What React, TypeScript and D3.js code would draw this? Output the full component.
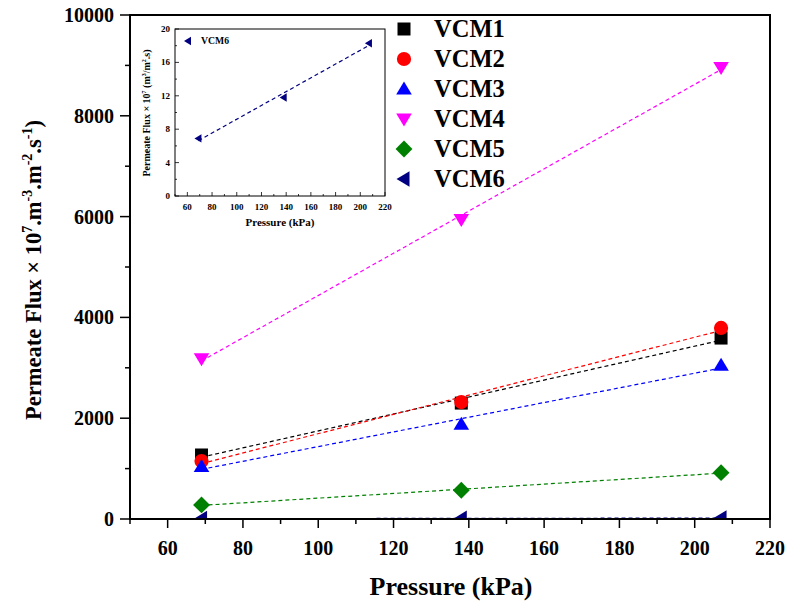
import React from "react";
import * as d3 from "d3";

const pressures = [69, 138, 207];
const seriesNames = ["VCM1", "VCM2", "VCM3", "VCM4", "VCM5", "VCM6"];
const vcm1 = [1270, 2300, 3590];
const vcm2 = [1150, 2320, 3790];
const vcm3 = [1040, 1880, 3050];
const vcm4 = [3180, 5940, 8960];
const vcm5 = [280, 570, 920];
const vcm6 = [6.9, 11.8, 18.3];
const xTicks = [60, 80, 100, 120, 140, 160, 180, 200, 220];
const yTicks = [0, 2000, 4000, 6000, 8000, 10000];
const insetYTicks = [0, 4, 8, 12, 16, 20];
const insetXTicks = [60, 80, 100, 120, 140, 160, 180, 200, 220];

const colors = ["#000000", "#ff0000", "#0000ff", "#ff00ff", "#008000", "#000080"];
const shapes = ["square", "circle", "up", "down", "diamond", "left"];
const allSeries = [vcm1, vcm2, vcm3, vcm4, vcm5, vcm6];

function markerPath(shape: string, s: number): string {
  switch (shape) {
    case "square":
      return `M${-s},${-s}H${s}V${s}H${-s}Z`;
    case "circle":
      return d3.symbol(d3.symbolCircle, Math.PI * s * s * 1.2)() as string;
    case "up":
      return `M0,${-s * 1.15}L${s * 1.2},${s * 0.85}L${-s * 1.2},${s * 0.85}Z`;
    case "down":
      return `M0,${s * 1.15}L${s * 1.2},${-s * 0.85}L${-s * 1.2},${-s * 0.85}Z`;
    case "diamond":
      return `M0,${-s * 1.3}L${s * 1.3},0L0,${s * 1.3}L${-s * 1.3},0Z`;
    case "left":
      return `M${-s * 1.15},0L${s * 0.85},${-s * 1.2}L${s * 0.85},${s * 1.2}Z`;
    default:
      return "";
  }
}

// least-squares line through a series
function fit(xs: number[], ys: number[]) {
  const mx = d3.mean(xs)!;
  const my = d3.mean(ys)!;
  let num = 0;
  let den = 0;
  xs.forEach((x, i) => {
    num += (x - mx) * (ys[i] - my);
    den += (x - mx) * (x - mx);
  });
  const b = num / den;
  const a = my - b * mx;
  return (x: number) => a + b * x;
}

function T(props: any) {
  const { children, style, ...rest } = props;
  return (
    <text fontWeight="bold" style={{ fontFamily: "Times New Roman", ...style }} {...rest}>
      {children}
    </text>
  );
}

export default function App() {
  // main panel
  const x = d3.scaleLinear().domain([50, 220]).range([130, 770]);
  const y = d3.scaleLinear().domain([0, 10000]).range([519, 15]);
  // inset panel
  const ix = d3.scaleLinear().domain([50, 220]).range([175, 385]);
  const iy = d3.scaleLinear().domain([0, 20]).range([196, 29]);

  const line = d3
    .line<[number, number]>()
    .x((d) => x(d[0]))
    .y((d) => y(d[1]));
  const iline = d3
    .line<[number, number]>()
    .x((d) => ix(d[0]))
    .y((d) => iy(d[1]));

  const xMinor = d3.range(50, 221, 10);
  const yMinor = d3.range(0, 10001, 1000);
  const x0 = pressures[0];
  const x1 = pressures[pressures.length - 1];

  const fit6 = fit(pressures, vcm6);

  return (
    <div style={{ position: "absolute", left: 0, top: 0 }}>
      <svg width={787} height={606}>
        <defs>
          <clipPath id="plotClip">
            <rect x={130} y={15} width={640} height={504} />
          </clipPath>
        </defs>

        {/* fitted trend lines */}
        <g clipPath="url(#plotClip)">
          {allSeries.map((vals, i) => {
            const f = fit(pressures, vals);
            return (
              <path
                key={"fit" + i}
                d={line([
                  [x0, f(x0)],
                  [x1, f(x1)],
                ]) as string}
                fill="none"
                stroke={colors[i]}
                strokeWidth={1.2}
                strokeDasharray="4,3"
              />
            );
          })}
          {allSeries.map((vals, i) =>
            vals.map((v, j) => (
              <path
                key={`m${i}-${j}`}
                d={markerPath(shapes[i], 6.5)}
                transform={`translate(${x(pressures[j])},${y(v)})`}
                fill={colors[i]}
              />
            ))
          )}
        </g>

        {/* frame */}
        <rect x={130} y={15} width={640} height={504} fill="none" stroke="#000" strokeWidth={2} />

        {/* x axis ticks */}
        {xMinor.map((t) => (
          <line
            key={"xm" + t}
            x1={x(t)}
            x2={x(t)}
            y1={519}
            y2={t % 20 === 0 ? 528 : 524}
            stroke="#000"
            strokeWidth={1.5}
          />
        ))}
        {xTicks.map((t) => (
          <T key={"xt" + t} x={x(t)} y={555} textAnchor="middle" fontSize={20}>
            {t}
          </T>
        ))}
        <T x={451} y={595} textAnchor="middle" fontSize={26}>
          Pressure (kPa)
        </T>

        {/* y axis ticks */}
        {yMinor.map((t) => (
          <line
            key={"ym" + t}
            x1={130}
            x2={t % 2000 === 0 ? 120 : 125}
            y1={y(t)}
            y2={y(t)}
            stroke="#000"
            strokeWidth={1.5}
          />
        ))}
        {yTicks.map((t) => (
          <T key={"yt" + t} x={114} y={y(t) + 7} textAnchor="end" fontSize={20}>
            {t}
          </T>
        ))}
        <T transform="translate(41,270) rotate(-90)" textAnchor="middle" fontSize={22.5}>
          Permeate Flux × 10
          <tspan dy={-9} fontSize={14}>7</tspan>
          <tspan dy={9}>.m</tspan>
          <tspan dy={-9} fontSize={14}>-3</tspan>
          <tspan dy={9}>.m</tspan>
          <tspan dy={-9} fontSize={14}>-2</tspan>
          <tspan dy={9}>.s</tspan>
          <tspan dy={-9} fontSize={14}>-1</tspan>
          <tspan dy={9}>)</tspan>
        </T>

        {/* legend */}
        {seriesNames.map((name, i) => (
          <g key={"lg" + i} transform={`translate(0,${29 + i * 30})`}>
            <path d={markerPath(shapes[i], 6.5)} transform="translate(404,0)" fill={colors[i]} />
            <T x={434} y={8} fontSize={24.5}>
              {name}
            </T>
          </g>
        ))}

        {/* inset */}
        <g>
          <rect x={175} y={29} width={210} height={167} fill="none" stroke="#000" strokeWidth={1} />
          <path
            d={iline([
              [x0, fit6(x0)],
              [x1, fit6(x1)],
            ]) as string}
            fill="none"
            stroke="#000080"
            strokeWidth={1.2}
            strokeDasharray="4,3"
          />
          {vcm6.map((v, j) => (
            <path
              key={"im" + j}
              d={markerPath("left", 3.5)}
              transform={`translate(${ix(pressures[j])},${iy(v)})`}
              fill="#000080"
            />
          ))}
          {d3.range(50, 221, 10).map((t) => (
            <line
              key={"ixm" + t}
              x1={ix(t)}
              x2={ix(t)}
              y1={196}
              y2={t % 20 === 0 ? 192 : 194}
              stroke="#000"
              strokeWidth={0.8}
            />
          ))}
          {insetXTicks.map((t) => (
            <T key={"ixt" + t} x={ix(t)} y={210} textAnchor="middle" fontSize={9}>
              {t}
            </T>
          ))}
          {d3.range(0, 21, 2).map((t) => (
            <line
              key={"iym" + t}
              x1={175}
              x2={t % 4 === 0 ? 179 : 177}
              y1={iy(t)}
              y2={iy(t)}
              stroke="#000"
              strokeWidth={0.8}
            />
          ))}
          {insetYTicks.map((t) => (
            <T key={"iyt" + t} x={170} y={iy(t) + 3} textAnchor="end" fontSize={9}>
              {t}
            </T>
          ))}
          <T x={280} y={226} textAnchor="middle" fontSize={11}>
            Pressure (kPa)
          </T>
          <T transform="translate(150,113) rotate(-90)" textAnchor="middle" fontSize={10}>
            Permeate Flux × 10
            <tspan dy={-4} fontSize={6}>7</tspan>
            <tspan dy={4}> (m</tspan>
            <tspan dy={-4} fontSize={6}>3</tspan>
            <tspan dy={4}>/m</tspan>
            <tspan dy={-4} fontSize={6}>2</tspan>
            <tspan dy={4}>.s)</tspan>
          </T>
          <path d={markerPath("left", 3.5)} transform="translate(188,41)" fill="#000080" />
          <T x={201} y={44} fontSize={9.7}>
            VCM6
          </T>
        </g>
      </svg>
    </div>
  );
}
